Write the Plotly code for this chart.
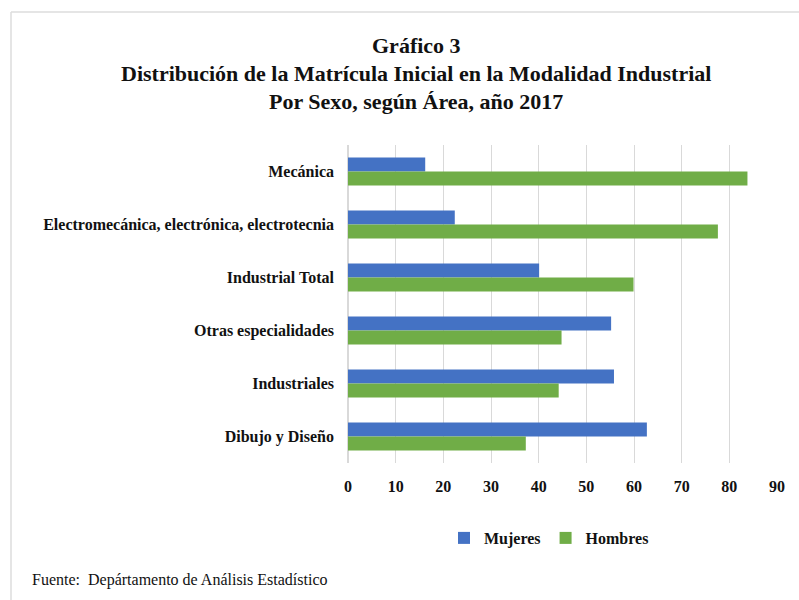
import plotly.graph_objects as go

categories = ["Mecánica", "Electromecánica, electrónica, electrotecnia", "Industrial Total",
              "Otras especialidades", "Industriales", "Dibujo y Diseño"]
mujeres = [16.2, 22.4, 40.1, 55.2, 55.8, 62.7]
hombres = [83.8, 77.6, 59.9, 44.8, 44.2, 37.3]
x_ticks = [0, 10, 20, 30, 40, 50, 60, 70, 80, 90]

SERIF = "Liberation Serif, Times New Roman, serif"

fig = go.Figure()
fig.add_trace(go.Bar(y=categories, x=mujeres, name="Mujeres", orientation="h",
                     marker=dict(color="#4472C4", line=dict(width=0))))
fig.add_trace(go.Bar(y=categories, x=hombres, name="Hombres", orientation="h",
                     marker=dict(color="#70AD47", line=dict(width=0))))

L, R, T, B = 348, 22, 145, 137
W, H = 799, 600
pw, ph = W - L - R, H - T - B

def px(p):
    return (p - L) / pw

def py(p):
    return (H - B - p) / ph

fig.update_layout(
    width=W, height=H,
    margin=dict(l=L, r=R, t=T, b=B, autoexpand=False),
    paper_bgcolor="white", plot_bgcolor="white",
    barmode="group", bargap=0.47, bargroupgap=0,
    font=dict(family=SERIF, color="#111111"),
    showlegend=True,
    legend=dict(orientation="h", x=px(444), xanchor="left", y=py(538), yanchor="middle",
                traceorder="normal", itemwidth=30, tracegroupgap=0,
                font=dict(family=SERIF, size=16, color="#111111", weight="bold")),
    xaxis=dict(range=[0, 90], tickvals=x_ticks, showgrid=True, gridcolor="#D9D9D9",
               gridwidth=1, zeroline=True, zerolinecolor="#D9D9D9", showline=False,
               ticks="", automargin=False, ticklabelstandoff=12,
               tickfont=dict(family=SERIF, size=16, color="#111111", weight="bold"),
               fixedrange=True),
    yaxis=dict(autorange="reversed", showgrid=False, zeroline=False, showline=False,
               ticks="", automargin=False, ticklabelstandoff=13,
               tickfont=dict(family=SERIF, size=16, color="#111111", weight="bold"),
               fixedrange=True),
)

title_lines = [
    ("Gráfico 3", 45),
    ("Distribución de la Matrícula Inicial en la Modalidad Industrial", 73),
    ("Por Sexo, según Área, año 2017", 101),
]
for text, yy in title_lines:
    fig.add_annotation(text=text, xref="paper", yref="paper", x=px(416), y=py(yy),
                       xanchor="center", yanchor="middle", showarrow=False,
                       font=dict(family=SERIF, size=22, color="#111111", weight="bold"))

fig.add_annotation(text="Fuente:  Depártamento de Análisis Estadístico", xref="paper", yref="paper",
                   x=px(30), y=py(580), xanchor="left", yanchor="middle", showarrow=False,
                   font=dict(family=SERIF, size=16, color="#111111"))

# chart frame (left and top edges)
fig.add_shape(type="line", xref="paper", yref="paper", x0=px(11), x1=px(11), y0=py(12), y1=py(600),
              line=dict(color="#DDDDDD", width=1.5))
fig.add_shape(type="line", xref="paper", yref="paper", x0=px(11), x1=px(799), y0=py(12), y1=py(12),
              line=dict(color="#DDDDDD", width=1.5))

fig.write_html("out.html", config={"displayModeBar": False},
               post_script="document.body.style.margin='0';document.body.style.overflow='hidden';")
